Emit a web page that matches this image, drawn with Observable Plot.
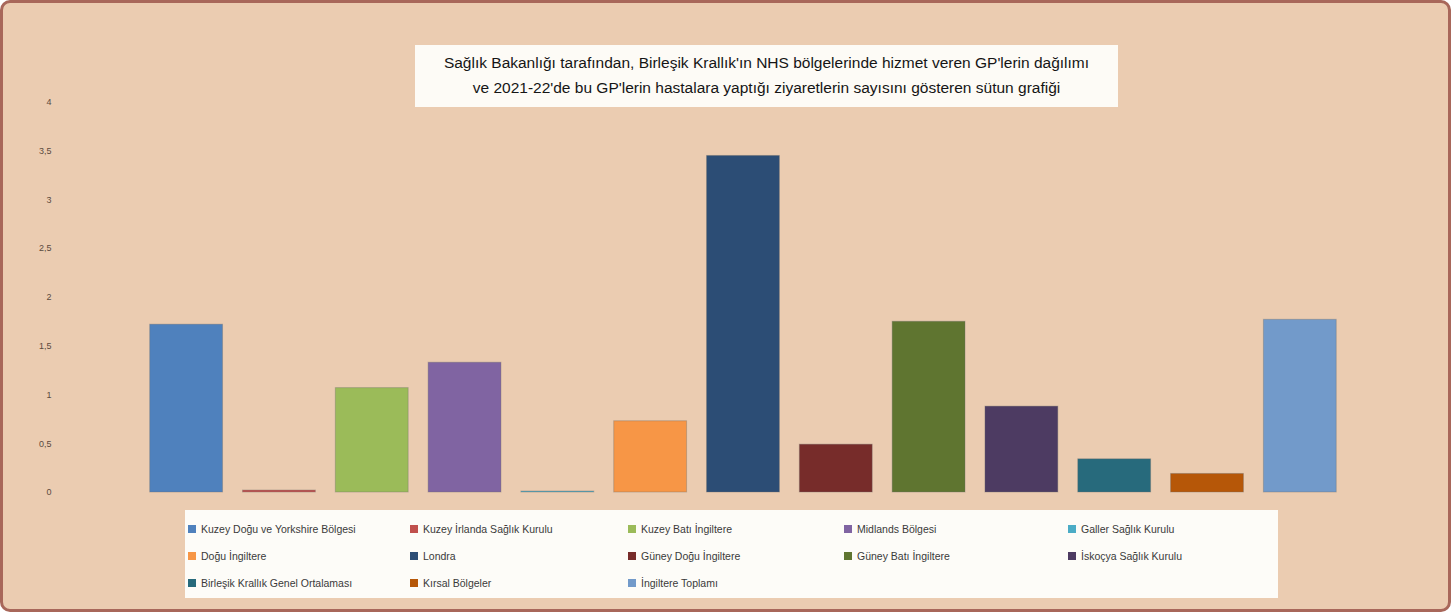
<!DOCTYPE html>
<html>
<head>
<meta charset="utf-8">
<script src="https://cdn.jsdelivr.net/npm/d3@7"></script>
<script src="https://cdn.jsdelivr.net/npm/@observablehq/plot@0.6"></script>
<style>
  html, body { margin: 0; padding: 0; background: #ffffff; }
  #card {
    position: relative; width: 1445px; height: 606px; margin: 0;
    border: 3px solid #a8675a; border-radius: 10px;
    background: #ebccb1; overflow: hidden;
    font-family: "Liberation Sans", Arial, sans-serif;
  }
  #chart { position: absolute; left: -3px; top: -3px; }
  #title {
    position: absolute; left: 412px; top: 42px; width: 703px; height: 62px;
    background: #fdfbf6; color: #151515; font-size: 15.5px; line-height: 25px;
    text-align: center; padding-top: 5px; box-sizing: border-box;
  }
  #legend {
    position: absolute; left: 182px; top: 507px; width: 1093px; height: 88px;
    background: #fdfcf8; box-sizing: border-box; padding: 5px 0 0 3px;
    display: flex; flex-wrap: wrap; align-content: flex-start;
    font-size: 10.5px; color: #3a3a3a;
  }
  .item { height: 27px; display: flex; align-items: center; white-space: nowrap; }
  .sw { width: 8px; height: 8px; margin-right: 5px; flex: none; }
</style>
</head>
<body>
<div id="card">
  <div id="chart"></div>
  <div id="title">Sağlık Bakanlığı tarafından, Birleşik Krallık'ın NHS bölgelerinde hizmet veren GP'lerin dağılımı<br>ve 2021-22'de bu GP'lerin hastalara yaptığı ziyaretlerin sayısını gösteren sütun grafiği</div>
  <div id="legend"></div>
</div>
<script>
const categories = [
  "Kuzey Doğu ve Yorkshire Bölgesi",
  "Kuzey İrlanda Sağlık Kurulu",
  "Kuzey Batı İngiltere",
  "Midlands Bölgesi",
  "Galler Sağlık Kurulu",
  "Doğu İngiltere",
  "Londra",
  "Güney Doğu İngiltere",
  "Güney Batı İngiltere",
  "İskoçya Sağlık Kurulu",
  "Birleşik Krallık Genel Ortalaması",
  "Kırsal Bölgeler",
  "İngiltere Toplamı"
];
const values = [1.72, 0.02, 1.07, 1.33, 0.01, 0.73, 3.45, 0.49, 1.75, 0.88, 0.34, 0.19, 1.77];
const colors = ["#4f81bd", "#c0504d", "#9bbb59", "#8064a2", "#4bacc6", "#f79646",
                "#2c4d75", "#772c2a", "#5f7530", "#4d3b62", "#276a7c", "#b65708", "#729aca"];
const yTicks = [0, 0.5, 1, 1.5, 2, 2.5, 3, 3.5, 4];
const yTickLabels = ["0", "0,5", "1", "1,5", "2", "2,5", "3", "3,5", "4"];

const data = categories.map((c, i) => ({category: c, value: values[i], color: colors[i]}));

const chart = Plot.plot({
  width: 1451,
  height: 612,
  marginTop: 102,
  marginBottom: 119,
  marginLeft: 135,
  marginRight: 98,
  style: {background: "transparent", fontFamily: "Liberation Sans, Arial, sans-serif"},
  x: {domain: categories, paddingInner: 0.22, paddingOuter: 0.11, axis: null},
  y: {domain: [0, 4], ticks: yTicks, label: null},
  marks: [
    Plot.gridY(yTicks, {stroke: "#d6b294", strokeOpacity: 0.55, x1: 135, x2: 1353}),
    Plot.barY(data, {x: "category", y: "value", fill: "color", stroke: "#6b6b6b", strokeOpacity: 0.35, strokeWidth: 1}),
    Plot.axisY(yTicks, {
      tickSize: 0, tickPadding: 84, fontSize: 9, fill: "#5a4a3e",
      tickFormat: (d) => yTickLabels[yTicks.indexOf(d)], label: null
    })
  ]
});
document.getElementById("chart").appendChild(chart);

const legend = document.getElementById("legend");
const widths = [222, 218, 216, 224, 210];
categories.forEach((c, i) => {
  const it = document.createElement("div");
  it.className = "item";
  it.style.width = widths[i % 5] + "px";
  const sw = document.createElement("span");
  sw.className = "sw";
  sw.style.background = colors[i];
  it.appendChild(sw);
  it.appendChild(document.createTextNode(c));
  legend.appendChild(it);
});
</script>
</body>
</html>
